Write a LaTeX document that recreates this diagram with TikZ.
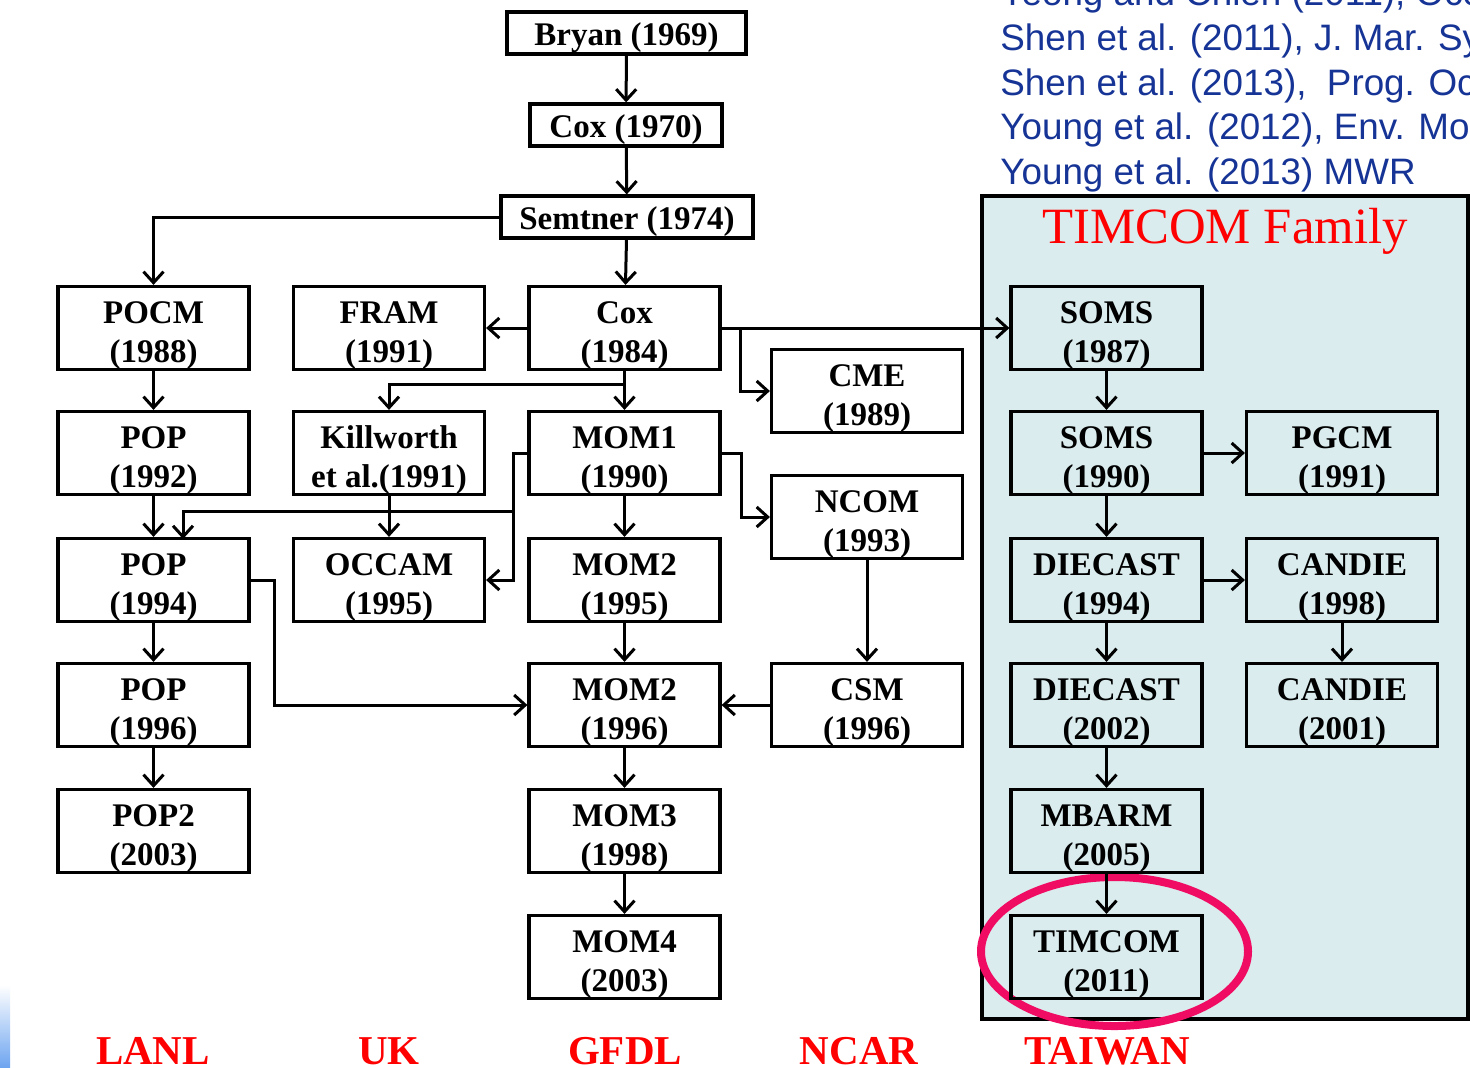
\documentclass[tikz,border=0pt]{standalone}
\usepackage{fontspec}
\setmainfont{Liberation Serif}
\newfontfamily\reffont{Liberation Sans}
\definecolor{famteal}{RGB}{218,236,238}
\definecolor{ringred}{RGB}{240,12,98}
\definecolor{refblue}{RGB}{22,52,150}
\definecolor{labred}{RGB}{255,0,0}
\definecolor{glowblue}{RGB}{110,165,240}
\usetikzlibrary{arrows.meta,positioning,calc}
\newcommand{\mdl}[2]{\rule{0pt}{18.5pt}#1\\#2}

\begin{document}
\begin{tikzpicture}[x=0.5pt, y=-0.5pt,
    model/.style={rectangle, draw=black, line width=1.6pt, minimum width=95.5pt, minimum height=40.5pt,
      inner sep=0pt, align=center, font=\bfseries\fontsize{16.5}{19.5}\selectfont},
    single/.style={rectangle, draw=black, line width=1.6pt, minimum height=21pt,
      inner sep=0pt, align=center, font=\bfseries\fontsize{16.5}{19.5}\selectfont,
      execute at begin node={\rule{0pt}{16pt}}},
    arrow/.style={-{Straight Barb[length=5.5pt, width=10pt, line width=1.5pt]}, line width=1.5pt, black},
    lab/.style={font=\bfseries\fontsize{20.5}{24}\selectfont, text=labred},
    ref/.style={anchor=base west, inner sep=0pt, font=\reffont\fontsize{18.4}{22}\selectfont, text=refblue}
  ]
    \clip (0,0) rectangle (1470,1067);
    \fill[white] (0,0) rectangle (1470,1067);
    \shade[top color=white, bottom color=glowblue] (0,985) rectangle (10,1067);

    % TIMCOM family panel
    \draw[fill=famteal, line width=1.6pt] (982,196) rectangle (1468,1019);
    \node[font=\fontsize{25.4}{30}\selectfont, text=labred] (famtitle) at (1225,231) {TIMCOM Family};
    \draw[ringred, line width=4pt] (1114.5,951.5) ellipse [x radius=133.5, y radius=74.5];

    % references
    \node[ref] (ref1) at (1000,5)   {Yeong and Chien (2011), Oce};
    \node[ref] (ref2) at (1000,50)  {Shen et al. (2011), J. Mar. Sy};
    \node[ref] (ref3) at (1000,95)  {Shen et al. (2013),\ \ Prog. Oc};
    \node[ref] (ref4) at (1000,139) {Young et al. (2012), Env. Mod};
    \node[ref] (ref5) at (1000,184) {Young et al. (2013) MWR};

    % trunk
    \node[single, minimum width=119.5pt] (bryan)   at (626.5,33)  {Bryan (1969)};
    \node[single, minimum width=96pt]    (cox70)   at (626,125)   {Cox (1970)};
    \node[single, minimum width=126pt]   (semtner) at (627,217)   {Semtner (1974)};

    % LANL
    \node[model] (pocm)  at (153.5,328) {\mdl{POCM}{(1988)}};
    \node[model] (pop92) at (153.5,453) {\mdl{POP}{(1992)}};
    \node[model] (pop94) at (153.5,580) {\mdl{POP}{(1994)}};
    \node[model] (pop96) at (153.5,705) {\mdl{POP}{(1996)}};
    \node[model] (pop2)  at (153.5,831) {\mdl{POP2}{(2003)}};

    % UK
    \node[model] (fram)      at (389,328) {\mdl{FRAM}{(1991)}};
    \node[model] (killworth) at (389,453) {\mdl{Killworth}{et al.(1991)}};
    \node[model] (occam)     at (389,580) {\mdl{OCCAM}{(1995)}};

    % GFDL
    \node[model] (cox84)  at (624.5,328) {\mdl{Cox}{(1984)}};
    \node[model] (mom1)   at (624.5,453) {\mdl{MOM1}{(1990)}};
    \node[model] (mom295) at (624.5,580) {\mdl{MOM2}{(1995)}};
    \node[model] (mom296) at (624.5,705) {\mdl{MOM2}{(1996)}};
    \node[model] (mom3)   at (624.5,831) {\mdl{MOM3}{(1998)}};
    \node[model] (mom4)   at (624.5,957) {\mdl{MOM4}{(2003)}};

    % NCAR
    \node[model] (cme)  at (867,391) {\mdl{CME}{(1989)}};
    \node[model] (ncom) at (867,517) {\mdl{NCOM}{(1993)}};
    \node[model] (csm)  at (867,705) {\mdl{CSM}{(1996)}};

    % TAIWAN
    \node[model] (soms87)    at (1106.5,328) {\mdl{SOMS}{(1987)}};
    \node[model] (soms90)    at (1106.5,453) {\mdl{SOMS}{(1990)}};
    \node[model] (diecast94) at (1106.5,580) {\mdl{DIECAST}{(1994)}};
    \node[model] (diecast02) at (1106.5,705) {\mdl{DIECAST}{(2002)}};
    \node[model] (mbarm)     at (1106.5,831) {\mdl{MBARM}{(2005)}};
    \node[model] (timcom)    at (1106.5,957) {\mdl{TIMCOM}{(2011)}};
    \node[model] (pgcm)      at (1342,453)   {\mdl{PGCM}{(1991)}};
    \node[model] (candie98)  at (1342,580)   {\mdl{CANDIE}{(1998)}};
    \node[model] (candie01)  at (1342,705)   {\mdl{CANDIE}{(2001)}};

    % group labels
    \node[lab] (lanl)   at (153,1051)  {LANL};
    \node[lab] (uk)     at (389,1051)  {UK};
    \node[lab] (gfdl)   at (625,1051)  {GFDL};
    \node[lab] (ncar)   at (859,1051)  {NCAR};
    \node[lab] (taiwan) at (1107,1051) {TAIWAN};

    \coordinate (kwsplit)  at (624.5,384);
    \coordinate (cmesplit) at (740,328);
    \coordinate (momsplit) at (513,453);
    \coordinate (popsplit) at (513,511);
    \coordinate (pop94in)  at (183,539);

    \draw[arrow] (bryan) -- (cox70);
    \draw[arrow] (cox70) -- (semtner);
    \draw[arrow] (semtner) -- (cox84);
    \draw[arrow] (semtner.west) -| (pocm.north);
    \draw[arrow] (cox84) -- (fram);
    \draw[arrow] (cox84) -- (soms87);
    \draw[arrow] (cmesplit) |- (cme.west);
    \draw[arrow] (cox84) -- (mom1);
    \draw[arrow] (kwsplit) -| (killworth.north);
    \draw[arrow] (pocm) -- (pop92);
    \draw[arrow] (pop92) -- (pop94);
    \draw[arrow] (pop94) -- (pop96);
    \draw[arrow] (pop96) -- (pop2);
    \draw[arrow] (killworth) -- (occam);
    \draw[arrow] (mom1.west) -- (momsplit) |- (occam.east);
    \draw[arrow] (popsplit) -| (pop94in);
    \draw[arrow] (mom1.east) -- ++(20,0) |- (ncom.west);
    \draw[arrow] (mom1) -- (mom295);
    \draw[arrow] (mom295) -- (mom296);
    \draw[arrow] (mom296) -- (mom3);
    \draw[arrow] (mom3) -- (mom4);
    \draw[arrow] (pop94.east) -- ++(24,0) |- (mom296.west);
    \draw[arrow] (ncom) -- (csm);
    \draw[arrow] (csm) -- (mom296);
    \draw[arrow] (soms87) -- (soms90);
    \draw[arrow] (soms90) -- (pgcm);
    \draw[arrow] (soms90) -- (diecast94);
    \draw[arrow] (diecast94) -- (candie98);
    \draw[arrow] (candie98) -- (candie01);
    \draw[arrow] (diecast94) -- (diecast02);
    \draw[arrow] (diecast02) -- (mbarm);
    \draw[arrow] (mbarm) -- (timcom);
\end{tikzpicture}
\end{document}
